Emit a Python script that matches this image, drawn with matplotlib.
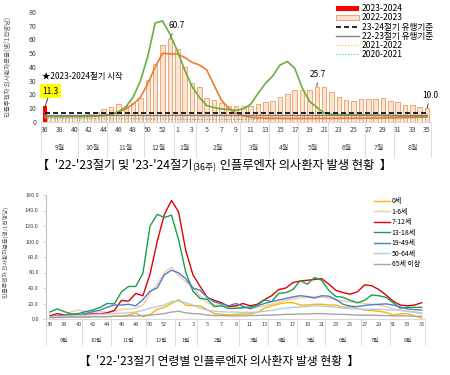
import numpy as np
import matplotlib
matplotlib.use("Agg")
import matplotlib.pyplot as plt

plt.rcParams['font.family'] = ['Noto Sans CJK KR', 'DejaVu Sans']

# categories: weeks 36..53, 1..35 and month groups
weeks = list(range(36, 54)) + list(range(1, 36))
months = ['9월', '10월', '11월', '12월', '1월', '2월', '3월', '4월', '5월', '6월', '7월', '8월']
month_weeks = [5, 4, 5, 4, 3, 6, 4, 4, 4, 5, 4, 5]

# top chart series (per 1,000 outpatients)
s2324 = [11.3]
s2223 = [4.6, 4.9, 5.0, 4.8, 5.4, 5.2, 6.0, 7.0, 9.2, 11.0, 12.8, 11.5, 14.0, 17.2,
         30.5, 42.2, 56.0, 60.7, 52.9, 40.2, 28.0, 25.7, 17.2, 16.0, 14.0, 11.6, 11.6,
         11.8, 11.6, 13.0, 14.5, 15.3, 18.4, 20.0, 23.3, 23.3, 23.6, 25.7, 25.5, 21.6,
         18.0, 16.0, 15.3, 16.4, 16.7, 16.7, 17.2, 15.3, 14.4, 12.4, 12.1, 10.7, 10.0]
past_green = [4.0, 4.0, 3.9, 3.9, 4.0, 4.0, 4.1, 4.3, 4.6, 5.5, 7.5, 11.0, 18.0, 30.0,
              48.0, 72.0, 73.5, 64.0, 52.0, 38.0, 26.0, 18.0, 12.0, 10.5, 9.5, 9.0, 8.5,
              9.5, 13.0, 20.8, 28.0, 33.5, 41.5, 44.0, 39.0, 25.0, 15.0, 10.7, 6.5, 5.5,
              5.3, 5.2, 5.1, 5.0, 5.0, 4.9, 4.8, 4.7, 4.5, 4.4, 4.3, 4.3, 4.3]
past_orange = [4.4, 4.3, 4.3, 4.2, 4.2, 4.3, 4.4, 4.5, 4.8, 5.5, 7.0, 9.5, 13.0, 18.0,
               28.0, 40.0, 50.0, 49.5, 49.5, 47.0, 43.5, 41.5, 38.0, 27.0, 16.0, 10.0, 6.5,
               4.5, 3.5, 3.0, 2.8, 2.7, 2.7, 2.6, 2.6, 2.6, 2.6, 2.6, 2.6, 2.6, 2.6, 2.7,
               2.7, 2.7, 2.8, 2.8, 2.9, 3.0, 3.1, 3.2, 3.3, 3.4, 3.5]
s2122 = [3.6, 3.5, 3.4, 3.3, 3.2, 3.1, 3.0, 2.9, 2.9, 2.8, 2.8, 2.7, 2.7, 2.6, 2.6,
         2.5, 2.5, 2.4, 2.3, 2.2, 2.0, 1.9, 1.8, 1.8, 1.8, 1.8, 1.9, 1.9, 2.0, 2.0, 2.1,
         2.1, 2.2, 2.2, 2.3, 2.3, 2.4, 2.5, 2.5, 2.6, 2.7, 2.8, 2.9, 3.0, 3.2, 3.4, 3.6,
         3.8, 4.0, 4.2, 4.4, 4.6, 4.8]
s2021 = [2.6, 2.6, 2.5, 2.5, 2.5, 2.4, 2.4, 2.4, 2.3, 2.3, 2.3, 2.2, 2.2, 2.2, 2.1,
         2.1, 2.1, 2.0, 2.0, 2.0, 1.9, 1.9, 1.9, 1.9, 2.0, 2.0, 2.0, 2.1, 2.1, 2.2, 2.2,
         2.3, 2.3, 2.4, 2.4, 2.5, 2.5, 2.6, 2.6, 2.7, 2.7, 2.8, 2.8, 2.9, 2.9, 3.0, 3.0,
         3.1, 3.1, 3.2, 3.2, 3.3, 3.3]
base_2324 = 6.5
base_2223 = 4.9
top_legend_order = ['2023-2024', '2022-2023', '23-24절기 유행기준', '22-23절기 유행기준',
                    '2021-2022', '2020-2021']

# bottom chart: by age group
age_labels = ['0세', '1-6세', '7-12세', '13-18세', '19-49세', '50-64세', '65세 이상']
age_colors = ['#F5B800', '#F6C9A6', '#E00000', '#16A048', '#4A80C8', '#B7CBE8', '#A6A6A6']
age_0 = [1.5, 2, 2.5, 2.5, 2, 2.5, 3, 3, 3, 3.5, 4, 5, 8, 3, 5.5, 12.5, 15, 20, 25, 18,
         17, 17, 12, 7, 6, 5.5, 6, 6.5, 6.5, 8.5, 14, 17, 19.5, 21, 21, 18, 18, 19, 19,
         18, 18, 15, 16, 13.5, 11.5, 11, 10, 8.5, 5, 6.5, 7, 4, 1]
age_1_6 = [5, 4.5, 4, 9.5, 11.5, 9.5, 7.5, 9.5, 8.5, 9.5, 12.5, 13, 14, 18, 33, 45, 60,
           67, 56, 48, 40, 30, 21, 18, 18, 16, 16, 14, 14, 15, 17, 19, 22, 24, 26, 27,
           28, 29, 28, 27, 25, 23, 22, 21, 20, 19, 18, 16, 13, 11, 10, 9, 8]
age_7_12 = [4, 7, 5, 5, 5.5, 6, 6.5, 6.5, 8, 11, 24, 23, 33, 30, 58, 100, 135, 153, 138,
            88, 57, 42, 28, 24, 21, 16, 17, 20, 17, 19, 25, 30, 38, 40, 47, 49, 50, 51,
            52, 45, 37, 34, 32, 35, 44, 43, 38, 31, 23, 18, 17, 18, 21]
age_13_18 = [9, 13, 9.5, 6.5, 7, 9.5, 11.5, 15, 20, 19.5, 35, 42, 42, 59, 120, 135, 131,
             134, 102, 60, 36, 26.5, 25.5, 16, 17, 13.5, 13.8, 14.6, 15.5, 18, 24.5, 22.4,
             33, 34, 38, 49.5, 45, 53.5, 50, 37, 29, 28, 24, 21, 24, 31, 30, 28, 21, 14,
             15, 15, 15]
age_19_49 = [3, 4, 4.5, 5, 5.5, 7, 9.5, 11.5, 15, 18, 18, 19, 17, 25, 36, 40, 57, 63,
             59.5, 52, 40, 37, 28, 22, 19.5, 17, 20, 16.5, 13, 17, 20, 22.5, 24.5, 26.5,
             28.5, 30, 29, 27, 30, 29.5, 25, 19, 16.5, 16, 17.5, 18.5, 19, 19.5, 18, 15.5,
             13, 12, 11.5]
age_50_64 = [3, 3.5, 3.5, 4, 4.5, 5, 5.5, 6, 6.5, 7, 7.5, 8, 9, 11, 14, 16, 18, 22.5, 23,
             21, 18, 14, 11.5, 10, 9.5, 9, 9, 8.5, 8.5, 9, 10, 11, 13, 14, 15, 15.5, 16,
             17, 16.5, 16, 15, 14, 13.5, 13, 12.5, 12.5, 12.5, 12, 11.5, 11.5, 10, 8.5, 7]
age_65 = [2, 2, 2, 2.5, 2.5, 2.5, 3, 3, 3, 3.5, 3.5, 4, 4, 4.5, 5, 6, 7, 9, 10, 8, 7,
          6.5, 5, 4.5, 4.5, 4, 4, 4, 4.5, 4.5, 5, 5, 5.5, 6, 6, 6.5, 6.5, 7, 7, 6.5, 6,
          6, 5.5, 5, 5, 5, 4.5, 4.5, 4, 4, 4, 3.5, 3.5]
age_series = [age_0, age_1_6, age_7_12, age_13_18, age_19_49, age_50_64, age_65]

W, H = 450, 375
fig = plt.figure(figsize=(W / 100, H / 100), dpi=100)
x = np.arange(len(weeks))
bounds = np.concatenate([[0], np.cumsum(month_weeks)]) - 0.5
centers = (bounds[:-1] + bounds[1:]) / 2


def month_axis(ax, fs, sep_depth, label_y, color):
    tr = ax.get_xaxis_transform()
    for b in bounds:
        ax.plot([b, b], [0, -sep_depth], transform=tr, color='#D9D9D9', lw=0.6, clip_on=False)
    for c, m in zip(centers, months):
        ax.text(c, label_y, m, transform=tr, ha='center', va='center', fontsize=fs, color=color)


# ---- top chart ----
ax1 = fig.add_axes([41.3 / W, 1 - 122 / H, 389.4 / W, 110 / H])
ax1.bar(x[:len(s2324)], s2324, width=0.62, color='#FF0000', zorder=3, label='2023-2024')
ax1.bar(x, s2223, width=0.62, color='#FBE3D3', edgecolor='#F09A5E', linewidth=0.6,
        zorder=2, label='2022-2023')
ax1.plot(x, [base_2324] * len(x), color='black', lw=1.2, ls=(0, (3, 1.8)), zorder=5,
         label='23-24절기 유행기준')
ax1.plot(x, [base_2223] * len(x), color='#7F7F7F', lw=1.0, zorder=5, label='22-23절기 유행기준')
ax1.plot(x, s2122, color='#FFC000', lw=0.8, ls=':', zorder=4, label='2021-2022')
ax1.plot(x, s2021, color='#4BB8D8', lw=0.8, ls=':', zorder=4, label='2020-2021')
ax1.plot(x, past_orange, color='#EE7A30', lw=1.2, zorder=4)
ax1.plot(x, past_green, color='#6AAE3F', lw=1.2, zorder=4)

ax1.set_xlim(-0.5, len(x) - 0.5)
ax1.set_ylim(0, 80)
ax1.set_yticks(range(0, 81, 10))
ax1.set_xticks(x[::2])
ax1.set_xticklabels([str(w) for w in weeks[::2]])
ax1.tick_params(axis='both', length=0, labelsize=5, colors='#404040')
ax1.tick_params(axis='x', pad=3)
for s in ['top', 'right', 'left']:
    ax1.spines[s].set_visible(False)
ax1.spines['bottom'].set_color('#D9D9D9')
month_axis(ax1, 5, 0.32, -0.24, '#404040')

fig.text(8 / W, 1 - 67 / H, '인플루엔자 의사환자분율(명/1천명당)', rotation=90,
         fontsize=4.6, color='#595959', ha='center', va='center')

# value labels
arrow = dict(arrowstyle='-', lw=0.5, color='black', shrinkA=1, shrinkB=0)
ipk = int(np.argmax(s2223))
ax1.annotate(f'{s2223[ipk]:.1f}', xy=(ipk, s2223[ipk]), xytext=(5, 9.5),
             textcoords='offset points', ha='center', va='center', fontsize=6,
             arrowprops=arrow)
isp = 37
ax1.annotate(f'{s2223[isp]:.1f}', xy=(isp, s2223[isp]), xytext=(1, 9),
             textcoords='offset points', ha='center', va='center', fontsize=6,
             arrowprops=arrow)
ax1.annotate(f'{s2223[-1]:.1f}', xy=(len(x) - 1, s2223[-1]), xytext=(2.5, 9.5),
             textcoords='offset points', ha='center', va='center', fontsize=6,
             annotation_clip=False, arrowprops=arrow)
ax1.annotate(f'{s2324[0]:.1f}', xy=(0, s2324[0]), xytext=(4, 11),
             textcoords='offset points', ha='center', va='center', fontsize=6,
             bbox=dict(boxstyle='square,pad=0.3', fc='#FFFF00', ec='none'),
             arrowprops=dict(arrowstyle='-', lw=0.5, color='black', shrinkA=0, shrinkB=0))
ax1.text(-0.45, 33, '★2023-2024절기 시작', fontsize=6, va='center', ha='left')

handles, labels = ax1.get_legend_handles_labels()
lookup = dict(zip(labels, handles))
ax1.legend([lookup[k] for k in top_legend_order], top_legend_order,
           loc='upper left', bbox_to_anchor=(332 / W, 1.0), bbox_transform=fig.transFigure,
           frameon=False, fontsize=6.2, handlelength=2.6, handleheight=0.55,
           labelspacing=0.02, borderpad=0, handletextpad=0.35)

# ---- bottom chart ----
ax2 = fig.add_axes([46.4 / W, 1 - 319 / H, 378.9 / W, 124 / H])
for vals, lab, col in zip(age_series, age_labels, age_colors):
    ax2.plot(x, vals, color=col, lw=1.0, label=lab)
ax2.set_xlim(-0.5, len(x) - 0.5)
ax2.set_ylim(0, 160)
ax2.set_yticks(range(0, 161, 20))
ax2.set_yticklabels([f'{v:.1f}' for v in range(0, 161, 20)])
ax2.set_xticks(x[::2])
ax2.set_xticklabels([str(w) for w in weeks[::2]])
ax2.tick_params(axis='y', length=2, width=0.5, labelsize=4, colors='#BFBFBF', labelcolor='#404040')
ax2.tick_params(axis='x', length=0, labelsize=4, pad=2, colors='#404040')
for s in ['top', 'right']:
    ax2.spines[s].set_visible(False)
ax2.spines['left'].set_color('#BFBFBF')
ax2.spines['bottom'].set_color('#D9D9D9')
month_axis(ax2, 4, 0.21, -0.17, '#404040')

fig.text(6 / W, 1 - 252 / H, '인플루엔자 의사환자분율(명/1천명당)', rotation=90,
         fontsize=4.2, color='#595959', ha='center', va='center')

ax2.legend(loc='upper left', bbox_to_anchor=(371 / W, 1 - 194 / H), bbox_transform=fig.transFigure,
           frameon=False, fontsize=5, handlelength=2.2, labelspacing=0.35,
           borderpad=0, handletextpad=0.3)

# ---- titles ----
t1 = fig.text(37 / W, 1 - 169 / H, "【  '22-'23절기 및 '23-'24절기", fontsize=8.8, va='baseline')
t2 = ax1.annotate('(36주)', xy=(1, 0), xycoords=t1, fontsize=6.4, va='bottom',
                  annotation_clip=False)
ax1.annotate(' 인플루엔자 의사환자 발생 현황  】', xy=(1, 0), xycoords=t2, fontsize=8.8,
             va='bottom', annotation_clip=False)
fig.text(219 / W, 1 - 361 / H, "【  '22-'23절기 연령별 인플루엔자 의사환자 발생 현황  】",
         fontsize=8.5, ha='center', va='center')

fig.savefig('out.png', dpi=100)
